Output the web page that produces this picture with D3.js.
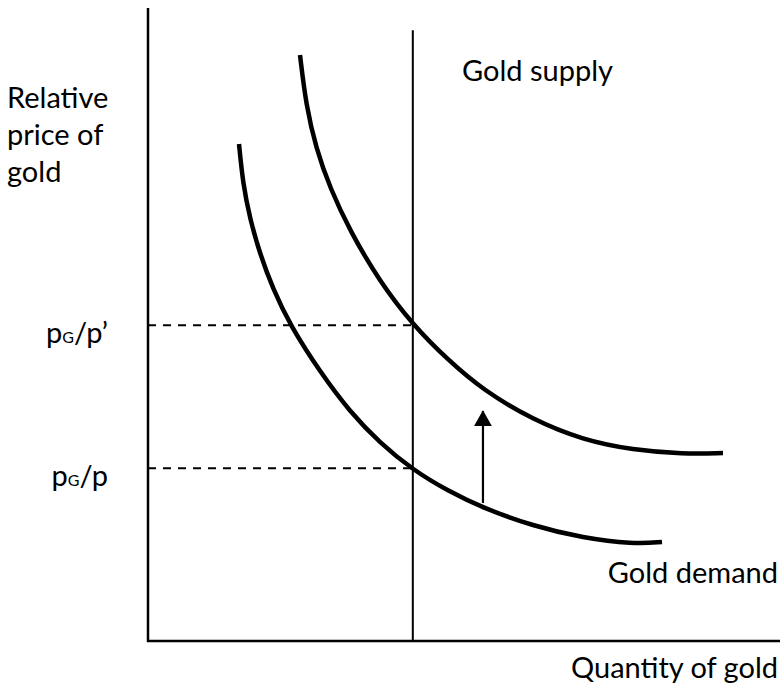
<!DOCTYPE html>
<html>
<head>
<meta charset="utf-8">
<script src="https://cdn.jsdelivr.net/npm/d3@7"></script>
<style>
  html, body { margin: 0; padding: 0; background: #fff; }
  svg { display: block; }
  text { font-family: Lato, "Open Sans", sans-serif; fill: #000; }
</style>
</head>
<body>
<div id="chart"></div>
<script>
// ---- Data (quantity and relative price, arbitrary units 0-100) ----
const demandOriginal = [ // lower curve: "Gold demand"
  [14.40, 78.52], [15.03, 72.20], [16.14, 66.67], [17.72, 61.14], [19.78, 55.61],
  [22.47, 49.92], [27.22, 42.50], [31.96, 36.18], [36.71, 31.28], [41.93, 27.01],
  [47.47, 23.70], [53.0, 21.01], [60.92, 18.17], [68.83, 16.27], [76.74, 15.32],
  [81.33, 15.64]
];
const demandShifted = [ // upper curve after shift
  [24.05, 92.58], [25.0, 84.68], [26.58, 77.88], [28.80, 71.56], [31.96, 64.77],
  [36.71, 56.71], [41.93, 49.92], [47.47, 44.39], [53.0, 39.65], [60.92, 34.91],
  [68.83, 31.75], [76.74, 30.17], [84.65, 29.54], [90.98, 29.70]
];
const supplyQuantity = 41.9;
const supplyTop = 96.5;
const priceLevels = [49.9, 27.3];          // p_G/p' and p_G/p
const priceLabels = [["p", "G", "/p\u2019"], ["p", "G", "/p"]];
const arrowQuantity = 53.0;
const arrowFrom = 21.8, arrowTo = 38.2;
const yAxisTitle = ["Relative", "price of", "gold"];
const xAxisTitle = "Quantity of gold";
const supplyLabel = "Gold supply";
const demandLabel = "Gold demand";

// ---- Layout ----
const W = 782, H = 686;
const x = d3.scaleLinear().domain([0, 100]).range([148, 780]);
const y = d3.scaleLinear().domain([0, 100]).range([641, 8]);

const svg = d3.select("#chart").append("svg")
  .attr("width", W).attr("height", H);

svg.append("defs").append("marker")
  .attr("id", "head")
  .attr("viewBox", "0 0 18 16")
  .attr("refX", 9).attr("refY", 1)
  .attr("markerWidth", 18).attr("markerHeight", 16)
  .attr("markerUnits", "userSpaceOnUse")
  .attr("orient", "0")
  .append("path").attr("d", "M0,16 L9,0 L18,16 Z").attr("fill", "#000");

// dashed price lines
svg.selectAll("line.dash").data(priceLevels).enter().append("line")
  .attr("class", "dash")
  .attr("x1", x(0)).attr("x2", x(supplyQuantity))
  .attr("y1", d => y(d)).attr("y2", d => y(d))
  .attr("stroke", "#000").attr("stroke-width", 2)
  .attr("stroke-dasharray", "8,7");

// axes
svg.append("line")
  .attr("x1", x(0)).attr("x2", x(0)).attr("y1", y(0) + 1).attr("y2", y(100))
  .attr("stroke", "#000").attr("stroke-width", 2.5);
svg.append("line")
  .attr("x1", x(0) - 1).attr("x2", x(100)).attr("y1", y(0)).attr("y2", y(0))
  .attr("stroke", "#000").attr("stroke-width", 2.5);

// supply line
svg.append("line")
  .attr("x1", x(supplyQuantity)).attr("x2", x(supplyQuantity))
  .attr("y1", y(0)).attr("y2", y(supplyTop))
  .attr("stroke", "#000").attr("stroke-width", 2);

// demand curves
const line = d3.line().x(d => x(d[0])).y(d => y(d[1]))
  .curve(d3.curveBasis);
svg.selectAll("path.demand").data([demandOriginal, demandShifted]).enter()
  .append("path").attr("class", "demand")
  .attr("d", line)
  .attr("fill", "none").attr("stroke", "#000").attr("stroke-width", 4.5)
  .attr("stroke-linecap", "butt");

// arrow
svg.append("line")
  .attr("x1", x(arrowQuantity)).attr("x2", x(arrowQuantity))
  .attr("y1", y(arrowFrom)).attr("y2", y(arrowTo) + 12)
  .attr("stroke", "#000").attr("stroke-width", 2.2)
  .attr("marker-end", "url(#head)");

// texts
const fs = 29;
const yt = svg.append("text").attr("font-size", fs);
yAxisTitle.forEach((t, i) => {
  yt.append("tspan").attr("x", 7).attr("y", 108 + i * 37).text(t);
});

priceLevels.forEach((p, i) => {
  const t = svg.append("text").attr("font-size", fs)
    .attr("x", 108).attr("y", y(p) + 18).attr("text-anchor", "end");
  const [a, b, c] = priceLabels[i];
  t.append("tspan").text(a);
  t.append("tspan").attr("font-size", 16).text(b);
  t.append("tspan").text(c);
});

svg.append("text").attr("font-size", fs)
  .attr("x", 462).attr("y", 81).text(supplyLabel);
svg.append("text").attr("font-size", fs)
  .attr("x", 778).attr("y", 583).attr("text-anchor", "end").text(demandLabel);
svg.append("text").attr("font-size", fs)
  .attr("x", 778).attr("y", 678).attr("text-anchor", "end").text(xAxisTitle);
</script>
</body>
</html>
